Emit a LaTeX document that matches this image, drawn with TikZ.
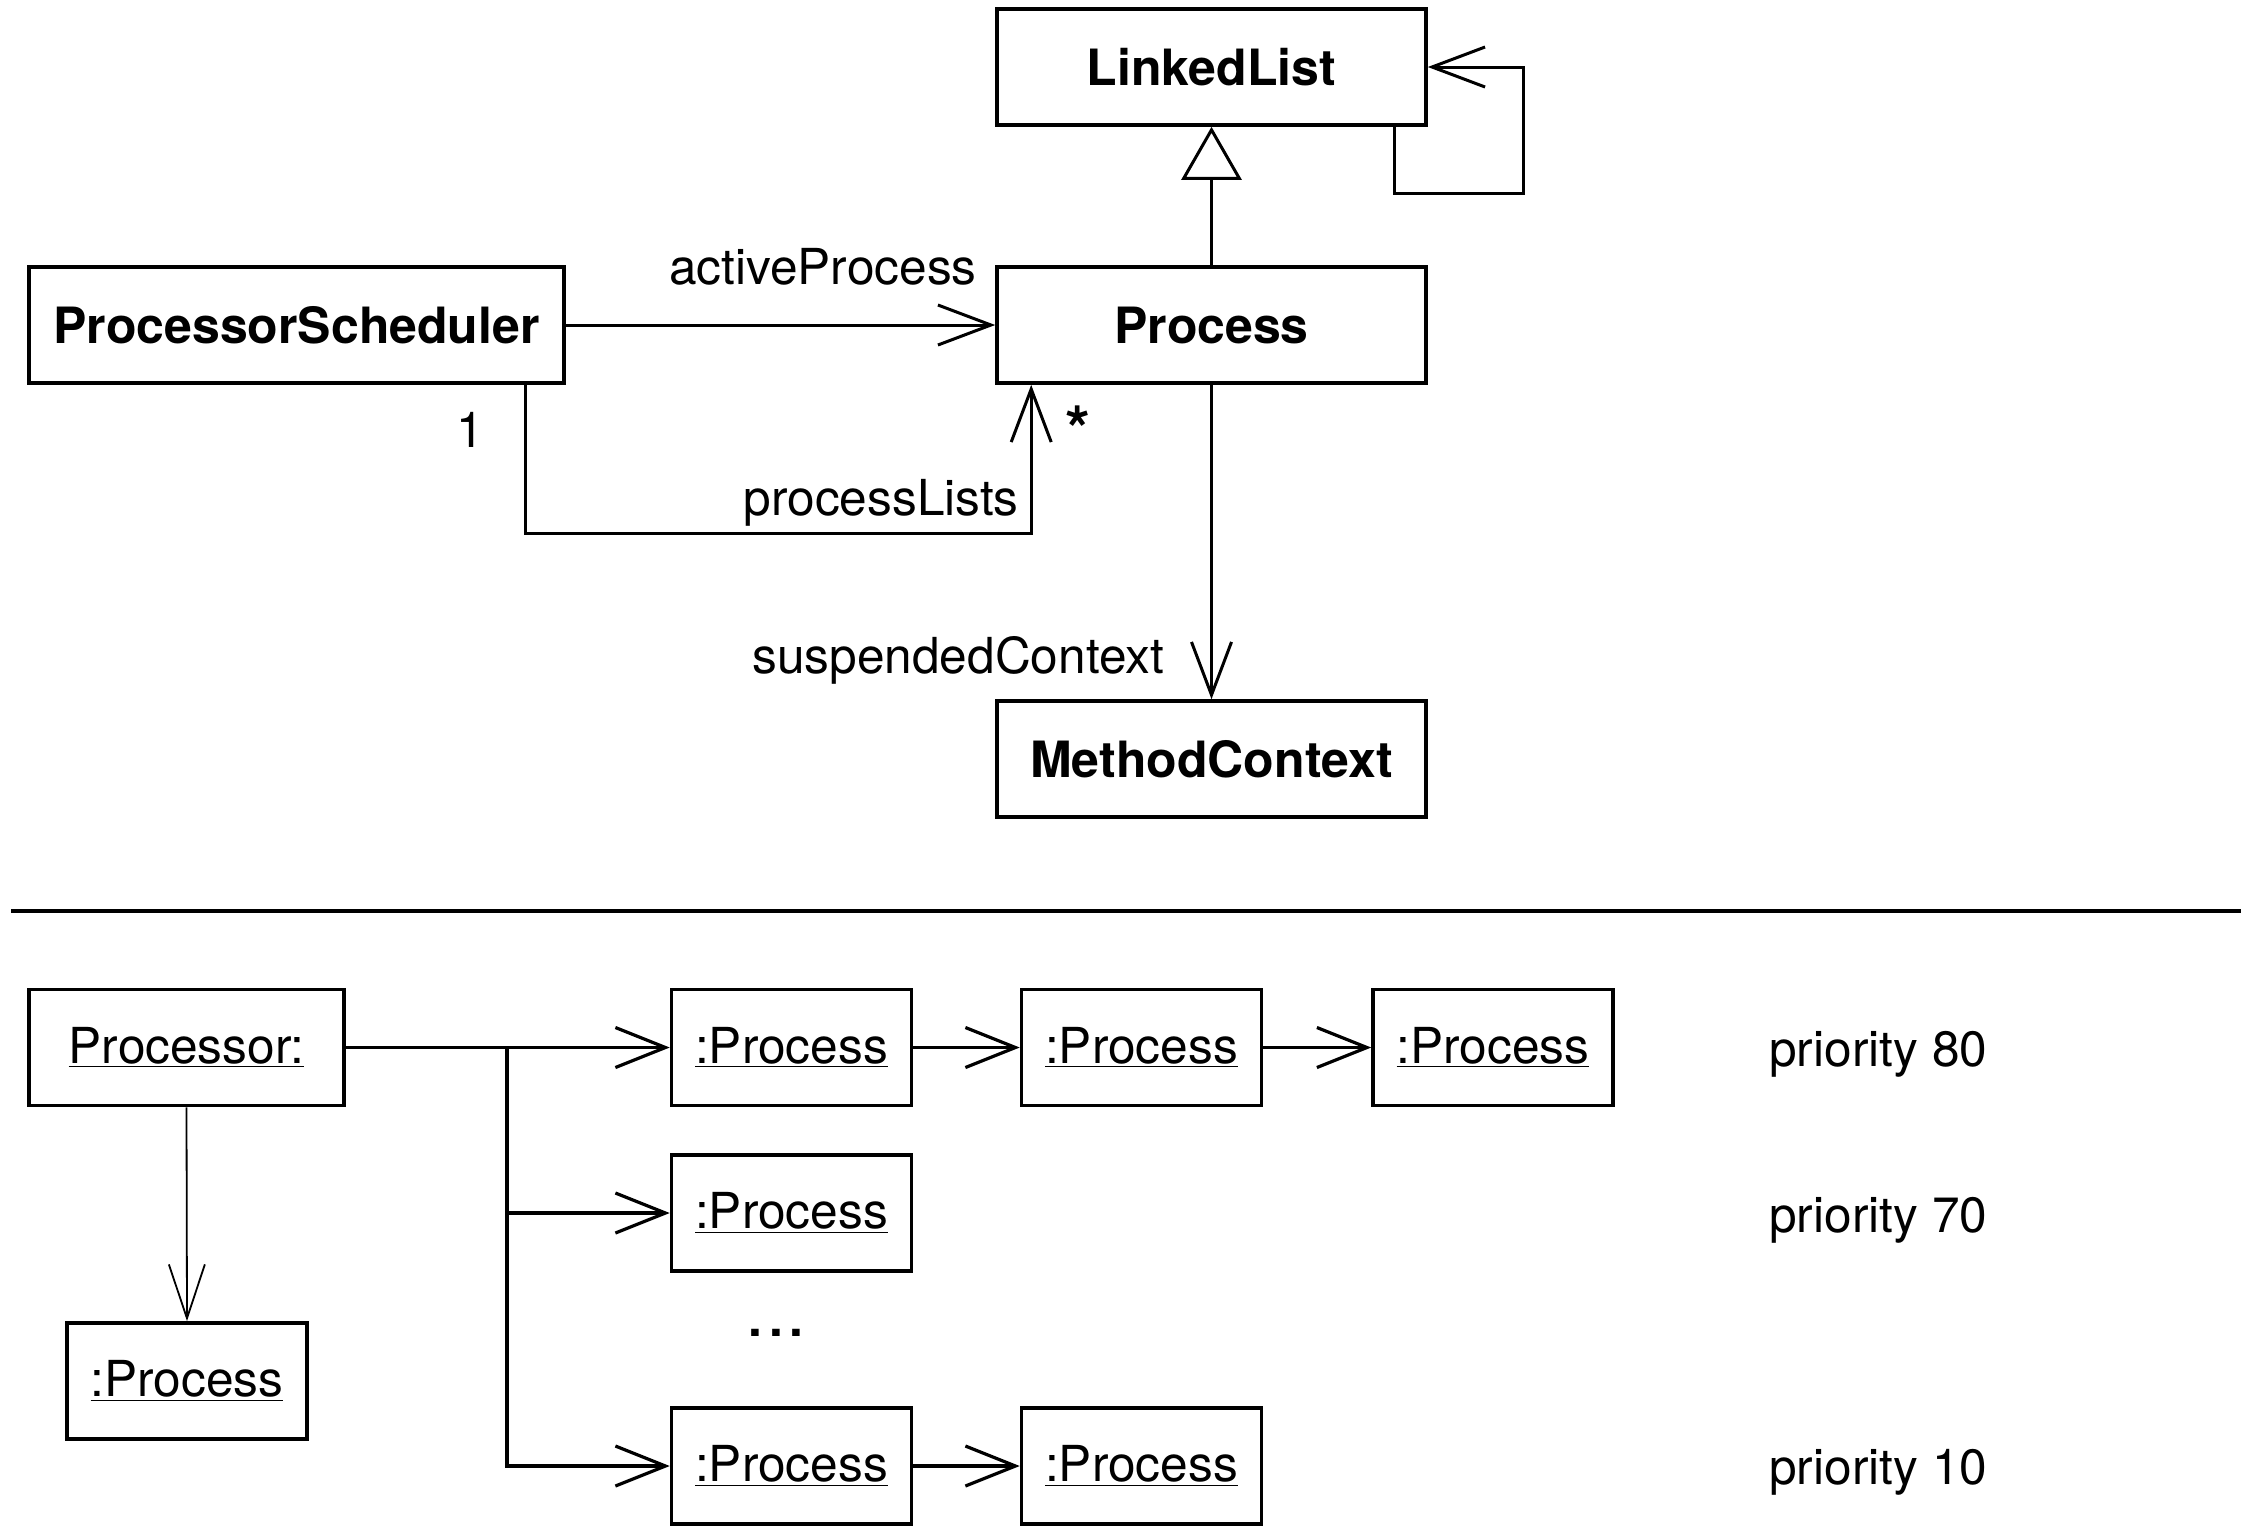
\documentclass[tikz,border=0pt]{standalone}
\usepackage{fontspec}
\setmainfont{TeX Gyre Heros}
\usetikzlibrary{arrows.meta}

\begin{document}
\begin{tikzpicture}[
  x=0.5pt, y=-0.5pt,
  font=\fontsize{24.8}{29}\selectfont,
  cls/.style={draw, line width=1.8pt, minimum width=214.5pt, minimum height=58pt,
    font=\fontsize{25}{29}\selectfont\bfseries},
  obj/.style={draw, line width=1.8pt, minimum width=120pt, minimum height=58pt},
  lbl/.style={inner sep=0pt},
  assoc/.style={line width=1.5pt, -{Straight Barb[length=26.5pt, width=20pt]}},
  gen/.style={line width=1.5pt, -{Triangle[open, length=26.5pt, width=30pt]}},
  link/.style={line width=1.6pt, -{Straight Barb[length=25pt, width=20pt]}},
  thinlink/.style={line width=0.9pt, -{Straight Barb[length=27pt, width=18pt]}},
]
\useasboundingbox (0,0) rectangle (2250,1533);
%\draw[gray, help lines] (0,0) grid[step=100] (2250,1533);

% class diagram
\node[cls] (ll) at (1211.5,67) {LinkedList};
\node[cls] (proc) at (1211.5,325) {Process};
\node[cls, minimum width=267.5pt] (sched) at (296.5,325) {ProcessorScheduler};
\node[cls] (mc) at (1211.5,759) {MethodContext};

\draw[assoc] ([xshift=-16.5pt]ll.south east) -- ++(0,-33.5pt) -| ([xshift=48pt]ll.east) -- (ll.east);
\draw[gen] (proc.north) -- (ll.south);
\draw[assoc] (sched.east) -- (proc.west)
  node[lbl, anchor=base east, shift={(-8.5pt,20.5pt)}] {activeProcess};
\coordinate (plc) at ([xshift=18pt, yshift=-74.5pt]proc.south west);
\draw[assoc] ([xshift=-20pt]sched.south east) node[lbl, shift={(-28pt,-22.5pt)}] {1}
  |- (plc) node[lbl, anchor=base east, shift={(-5.5pt,9pt)}] {processLists}
  -- ([xshift=18pt]proc.south west)
  node[lbl, shift={(23.5pt,-22pt)}, font=\fontsize{32}{32}\selectfont\bfseries] {*};
\draw[assoc] (proc.south) -- (mc.north)
  node[lbl, anchor=base east, shift={(-23pt,13pt)}] {suspendedContext};

\coordinate (sepl) at (11,911);
\coordinate (sepr) at (2241,911);
\draw[line width=2.2pt] (sepl) -- (sepr);

% object diagram
\node[obj, minimum width=157.5pt] (pr) at (186.5,1047.5) {\underline{Processor:}};
\node[obj] (pl) at (187,1381) {\underline{:Process}};
\node[obj] (p11) at (791.5,1047.5) {\underline{:Process}};
\node[obj] (p12) at (1141.5,1047.5) {\underline{:Process}};
\node[obj] (p13) at (1493,1047.5) {\underline{:Process}};
\node[obj] (p21) at (791.5,1213) {\underline{:Process}};
\node[obj] (p31) at (791.5,1466) {\underline{:Process}};
\node[obj] (p32) at (1141.5,1466) {\underline{:Process}};
\node[lbl, font=\fontsize{24.8}{29}\selectfont\bfseries] (dots) at (776,1333) {.\kern3.5pt.\kern3.5pt.};

\node[lbl, anchor=west] (pri80) at (1769,1054) {priority 80};
\node[lbl, anchor=west] (pri70) at (1769,1220) {priority 70};
\node[lbl, anchor=west] (pri10) at (1769,1472) {priority 10};

\coordinate (trunk) at (507,1047.5);
\draw[link] (pr.east) -- (p11.west);
\draw[link] (p11.east) -- (p12.west);
\draw[link] (p12.east) -- (p13.west);
\draw[link] (trunk) |- (p21.west);
\draw[link] (trunk) |- (p31.west);
\draw[link] (p31.east) -- (p32.west);
\draw[thinlink] (pr.south) -- (pl.north);
\end{tikzpicture}
\end{document}
